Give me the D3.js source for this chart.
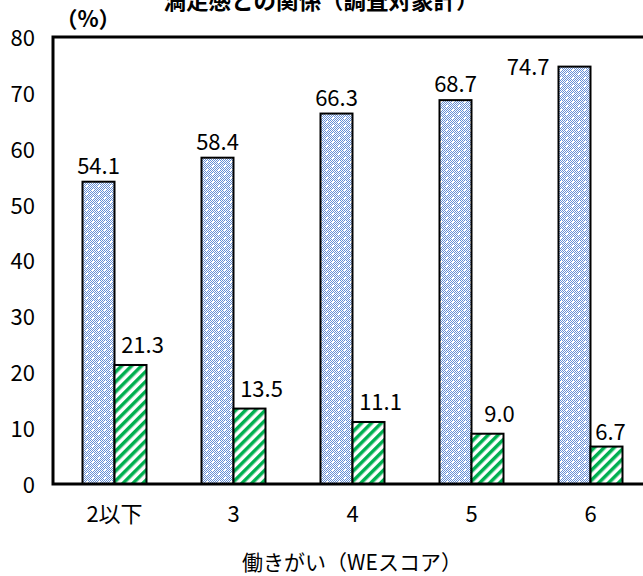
<!DOCTYPE html>
<html><head><meta charset="utf-8">
<script src="https://cdn.jsdelivr.net/npm/d3@7"></script>
<style>body{margin:0;background:#fff;}svg{display:block;}</style>
</head><body>
<svg id="c" width="643" height="576"></svg>
<script>
const categories = ["2以下", "3", "4", "5", "6"];
const seriesA = [54.1, 58.4, 66.3, 68.7, 74.7];
const seriesB = [21.3, 13.5, 11.1, 9.0, 6.7];
const yTicks = [0, 10, 20, 30, 40, 50, 60, 70, 80];
const titleText = "満足感との関係（調査対象計）";
const xTitle = "働きがい（WEスコア）";
const yUnit = "（%）";

(function(){
const FONT = "'Noto Sans CJK JP', sans-serif";
const svg = d3.select("#c");
const W = 643, H = 576;
const mLeft = 53, mTop = 37, mBottom = 484;

const defs = svg.append("defs");
const ck = defs.append("pattern").attr("id","ck").attr("width",2).attr("height",2).attr("patternUnits","userSpaceOnUse");
ck.append("rect").attr("width",2).attr("height",2).attr("fill","#ffffff");
ck.append("rect").attr("x",0).attr("y",0).attr("width",1).attr("height",1).attr("fill","#6790d6");
ck.append("rect").attr("x",1).attr("y",1).attr("width",1).attr("height",1).attr("fill","#6790d6");
const bp = defs.append("pattern").attr("id","bluePat").attr("width",12).attr("height",8).attr("patternUnits","userSpaceOnUse");
bp.append("rect").attr("width",12).attr("height",8).attr("fill","url(#ck)");
bp.append("rect").attr("x",2).attr("y",1).attr("width",2).attr("height",2).attr("fill","#fff");
bp.append("rect").attr("x",8).attr("y",5).attr("width",2).attr("height",2).attr("fill","#fff");
const gp = defs.append("pattern").attr("id","greenPat").attr("width",7).attr("height",7)
  .attr("patternUnits","userSpaceOnUse").attr("patternTransform","rotate(45)");
gp.append("rect").attr("width",7).attr("height",7).attr("fill","#fff");
gp.append("rect").attr("x",0).attr("y",0).attr("width",3.5).attr("height",7).attr("fill","#00b050");

const x = d3.scaleBand().domain(categories).range([55, 55 + 119 * 5]).padding(0);
const y = d3.scaleLinear().domain([0, 80]).range([mBottom, mTop]);
const bw = 32;

svg.append("text").attr("x", 321).attr("y", 9).attr("text-anchor","middle")
  .attr("font-family", FONT).attr("font-weight","bold").attr("font-size",22.5).text(titleText);

const g = svg.append("g");
categories.forEach((c, i) => {
  const cx = x(c) + x.bandwidth() / 2;
  g.append("rect").attr("x", cx - bw).attr("y", y(seriesA[i])).attr("width", bw)
    .attr("height", y(0) - y(seriesA[i])).attr("fill","url(#bluePat)").attr("stroke","#000").attr("stroke-width",2);
  g.append("rect").attr("x", cx).attr("y", y(seriesB[i])).attr("width", bw)
    .attr("height", y(0) - y(seriesB[i])).attr("fill","url(#greenPat)").attr("stroke","#000").attr("stroke-width",2);
  const last = i === categories.length - 1;
  if (last) {
    g.append("text").attr("x", cx - bw - 9).attr("y", y(seriesA[i]) + 8).attr("text-anchor","end")
      .attr("font-family", FONT).attr("font-size",22).text(seriesA[i].toFixed(1));
  } else {
    g.append("text").attr("x", cx - bw / 2).attr("y", y(seriesA[i]) - 8).attr("text-anchor","middle")
      .attr("font-family", FONT).attr("font-size",22).text(seriesA[i].toFixed(1));
  }
  g.append("text").attr("x", cx + bw / 2 + (last ? 4 : 12)).attr("y", y(seriesB[i]) - (last ? 7 : 12))
    .attr("text-anchor","middle")
    .attr("font-family", FONT).attr("font-size",22).text(seriesB[i].toFixed(1));
});

svg.append("path").attr("d", `M${W},${mTop}H${mLeft}V${mBottom}H${W}`)
  .attr("fill","none").attr("stroke","#000").attr("stroke-width",3);

const yAxis = d3.axisLeft(y).tickValues(yTicks).tickSize(0).tickPadding(18);
const ya = svg.append("g").attr("transform", `translate(${mLeft},0)`).call(yAxis);
ya.select(".domain").remove();
ya.selectAll("text").attr("font-family", FONT).attr("font-size",22).attr("fill","#000").attr("dy","0.38em");

const xAxis = d3.axisBottom(x).tickSize(0).tickPadding(22);
const xa = svg.append("g").attr("transform", `translate(0,${mBottom})`).call(xAxis);
xa.select(".domain").remove();
xa.selectAll("text").attr("font-family", FONT).attr("font-size",22).attr("fill","#000");

svg.append("text").attr("x", 88).attr("y", 27).attr("text-anchor","middle")
  .attr("font-family", FONT).attr("font-weight","bold").attr("font-size",22).text(yUnit);
svg.append("text").attr("x", 352).attr("y", 570).attr("text-anchor","middle")
  .attr("font-family", FONT).attr("font-size",21).text(xTitle);
})();
</script>
</body></html>
